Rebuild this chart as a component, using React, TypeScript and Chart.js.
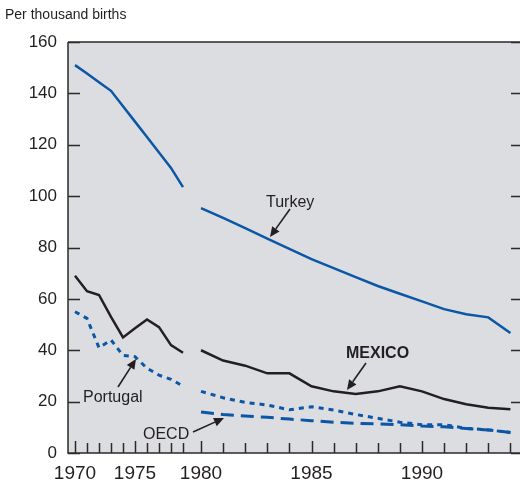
import React, { useEffect, useRef } from "react";
import { Chart, registerables } from "chart.js";

Chart.register(...registerables);

const years = [1970, 1971, 1972, 1973, 1974, 1975, 1976, 1977, 1978, 1979, 1980, 1981, 1982, 1983, 1984, 1985, 1986, 1987, 1988, 1989, 1990, 1991, 1992, 1993, 1994];
const turkey = [151, 147.7, 144.3, 141, 135, 129, 123, 117, 111, 103.5, 95.3, 91.5, 87.5, 83.5, 79.5, 75.5, 72, 68.5, 65, 62, 59, 56, 54, 52.8, 46.7];
const mexico = [69, 63, 61.5, 53, 45, 48.6, 52, 49, 42, 39, 40, 36, 34, 31, 31, 26, 24, 23, 24, 26, 24, 21, 19, 17.6, 17];
const portugal = [55, 52.4, 41, 44, 38, 37.5, 33, 30.3, 28.7, 26, 24, 21.5, 19.7, 18.7, 16.8, 18, 16.7, 15, 13.5, 12, 11, 11, 9.6, 9, 8];
const oecd = [null, null, null, null, null, null, null, null, null, null, 16, 15, 14.4, 13.9, 13.2, 12.6, 12, 11.5, 11.3, 11, 10.5, 10.2, 9.5, 9, 8];
const labeledYears = [1970, 1975, 1980, 1985, 1990];
const yTicks = [0, 20, 40, 60, 80, 100, 120, 140, 160];
const breakAfter = 1979;

// broken time axis: 1970s compressed, 1980s stretched
const pos = (yr: number) => (yr <= breakAfter ? 7 + (yr - 1970) * 12 : 133 + (yr - 1980) * 22.1);

const BLUE = "#0b56a6";
const BLACK = "#231f20";
const TEXT = "#231f20";
const BG = "#dcdde0";

function series(vals: (number | null)[]) {
  const out: { x: number; y: number | null }[] = [];
  years.forEach((yr, i) => {
    if (yr === breakAfter + 1) out.push({ x: (pos(breakAfter) + pos(yr)) / 2, y: null });
    out.push({ x: pos(yr), y: vals[i] });
  });
  return out;
}

function arrow(ctx: CanvasRenderingContext2D, x1: number, y1: number, x2: number, y2: number) {
  const ang = Math.atan2(y2 - y1, x2 - x1);
  const hl = 10, hw = 4.5;
  const bx = x2 - hl * Math.cos(ang), by = y2 - hl * Math.sin(ang);
  ctx.save();
  ctx.strokeStyle = BLACK;
  ctx.fillStyle = BLACK;
  ctx.lineWidth = 1.6;
  ctx.beginPath();
  ctx.moveTo(x1, y1);
  ctx.lineTo(bx, by);
  ctx.stroke();
  ctx.beginPath();
  ctx.moveTo(x2, y2);
  ctx.lineTo(bx + hw * Math.sin(ang), by - hw * Math.cos(ang));
  ctx.lineTo(bx - hw * Math.sin(ang), by + hw * Math.cos(ang));
  ctx.closePath();
  ctx.fill();
  ctx.restore();
}

const framePlugin = {
  id: "frame",
  beforeDatasetsDraw(chart: any) {
    const { ctx, chartArea: a } = chart;
    ctx.save();
    ctx.fillStyle = BG;
    ctx.fillRect(a.left, a.top, a.right - a.left, a.bottom - a.top);
    ctx.restore();
  },
  afterDraw(chart: any) {
    const { ctx, chartArea: a, scales } = chart;
    const xs = scales.x, ys = scales.y;
    ctx.save();
    ctx.strokeStyle = "#2a2a2a";
    ctx.lineWidth = 1.5;
    ctx.beginPath();
    ctx.moveTo(a.left, a.top);
    ctx.lineTo(a.right, a.top);
    ctx.moveTo(a.left, a.top);
    ctx.lineTo(a.left, a.bottom);
    ctx.lineTo(a.right, a.bottom);
    // y ticks (inward, both sides)
    yTicks.forEach((v) => {
      const py = Math.round(ys.getPixelForValue(v)) + 0.5;
      ctx.moveTo(a.left, py);
      ctx.lineTo(a.left + 12, py);
      ctx.moveTo(a.right - 9, py);
      ctx.lineTo(a.right, py);
    });
    // x ticks (inward)
    years.forEach((yr) => {
      const px = Math.round(xs.getPixelForValue(pos(yr))) + 0.5;
      const len = yr % 5 === 0 ? 12 : 10;
      ctx.moveTo(px, a.bottom);
      ctx.lineTo(px, a.bottom - len);
    });
    ctx.stroke();

    ctx.fillStyle = TEXT;
    ctx.font = "14px 'Liberation Sans', Arial, sans-serif";
    ctx.textBaseline = "alphabetic";
    ctx.textAlign = "left";
    ctx.fillText("Per thousand births", 5, 18.5);

    ctx.font = "16px 'Liberation Sans', Arial, sans-serif";
    ctx.fillText("Turkey", 266, 206.5);
    ctx.fillText("Portugal", 83, 401.5);
    ctx.fillText("OECD", 143, 439);
    ctx.font = "bold 16px 'Liberation Sans', Arial, sans-serif";
    ctx.fillText("MEXICO", 346, 358);
    ctx.restore();

    arrow(ctx, 290, 209, 270, 237);
    arrow(ctx, 366, 363, 347, 390);
    arrow(ctx, 118, 387, 136, 359);
    arrow(ctx, 193, 432, 224, 418);
  },
};

export default function App() {
  const ref = useRef<HTMLCanvasElement>(null);
  useEffect(() => {
    document.body.style.margin = "0";
    const chart = new Chart(ref.current!, {
      type: "line",
      data: {
        datasets: [
          { label: "Turkey", data: series(turkey), borderColor: BLUE, borderWidth: 2.5 },
          { label: "MEXICO", data: series(mexico), borderColor: BLACK, borderWidth: 2.5 },
          { label: "Portugal", data: series(portugal), borderColor: BLUE, borderWidth: 3, borderDash: [5, 5] },
          { label: "OECD", data: series(oecd), borderColor: BLUE, borderWidth: 3, borderDash: [13, 7] },
        ] as any,
      },
      options: {
        animation: false,
        responsive: false,
        spanGaps: false,
        elements: { point: { radius: 0 }, line: { tension: 0, borderCapStyle: "butt" } },
        layout: { padding: { top: 42, right: 0, left: 0, bottom: 0 } },
        plugins: { legend: { display: false }, tooltip: { enabled: false }, title: { display: false } },
        scales: {
          x: {
            type: "linear",
            min: 0,
            max: 452,
            grid: { display: false, drawTicks: false },
            border: { display: false },
            afterBuildTicks: (s: any) => {
              s.ticks = years.map((yr) => ({ value: pos(yr) }));
            },
            afterFit: (s: any) => {
              s.height = 30;
            },
            ticks: {
              autoSkip: false,
              maxRotation: 0,
              padding: 9,
              color: TEXT,
              font: { family: "'Liberation Sans Narrow', 'Arial Narrow', 'Liberation Sans', Arial", size: 19 },
              callback: (v: any) => {
                const yr = years.find((y) => Math.abs(pos(y) - Number(v)) < 0.01);
                return yr !== undefined && labeledYears.includes(yr) ? String(yr) : "";
              },
            },
          },
          y: {
            min: 0,
            max: 160,
            grid: { display: false, drawTicks: false },
            border: { display: false },
            afterFit: (s: any) => {
              s.width = 68;
            },
            ticks: {
              stepSize: 20,
              padding: 11,
              color: TEXT,
              font: { family: "'Liberation Sans', Arial", size: 17 },
            },
          },
        },
      } as any,
      plugins: [framePlugin],
    });
    return () => chart.destroy();
  }, []);
  return (
    <div style={{ position: "absolute", left: 0, top: 0, width: 520, height: 483 }}>
      <canvas ref={ref} width={520} height={483} style={{ width: 520, height: 483 }} />
    </div>
  );
}
